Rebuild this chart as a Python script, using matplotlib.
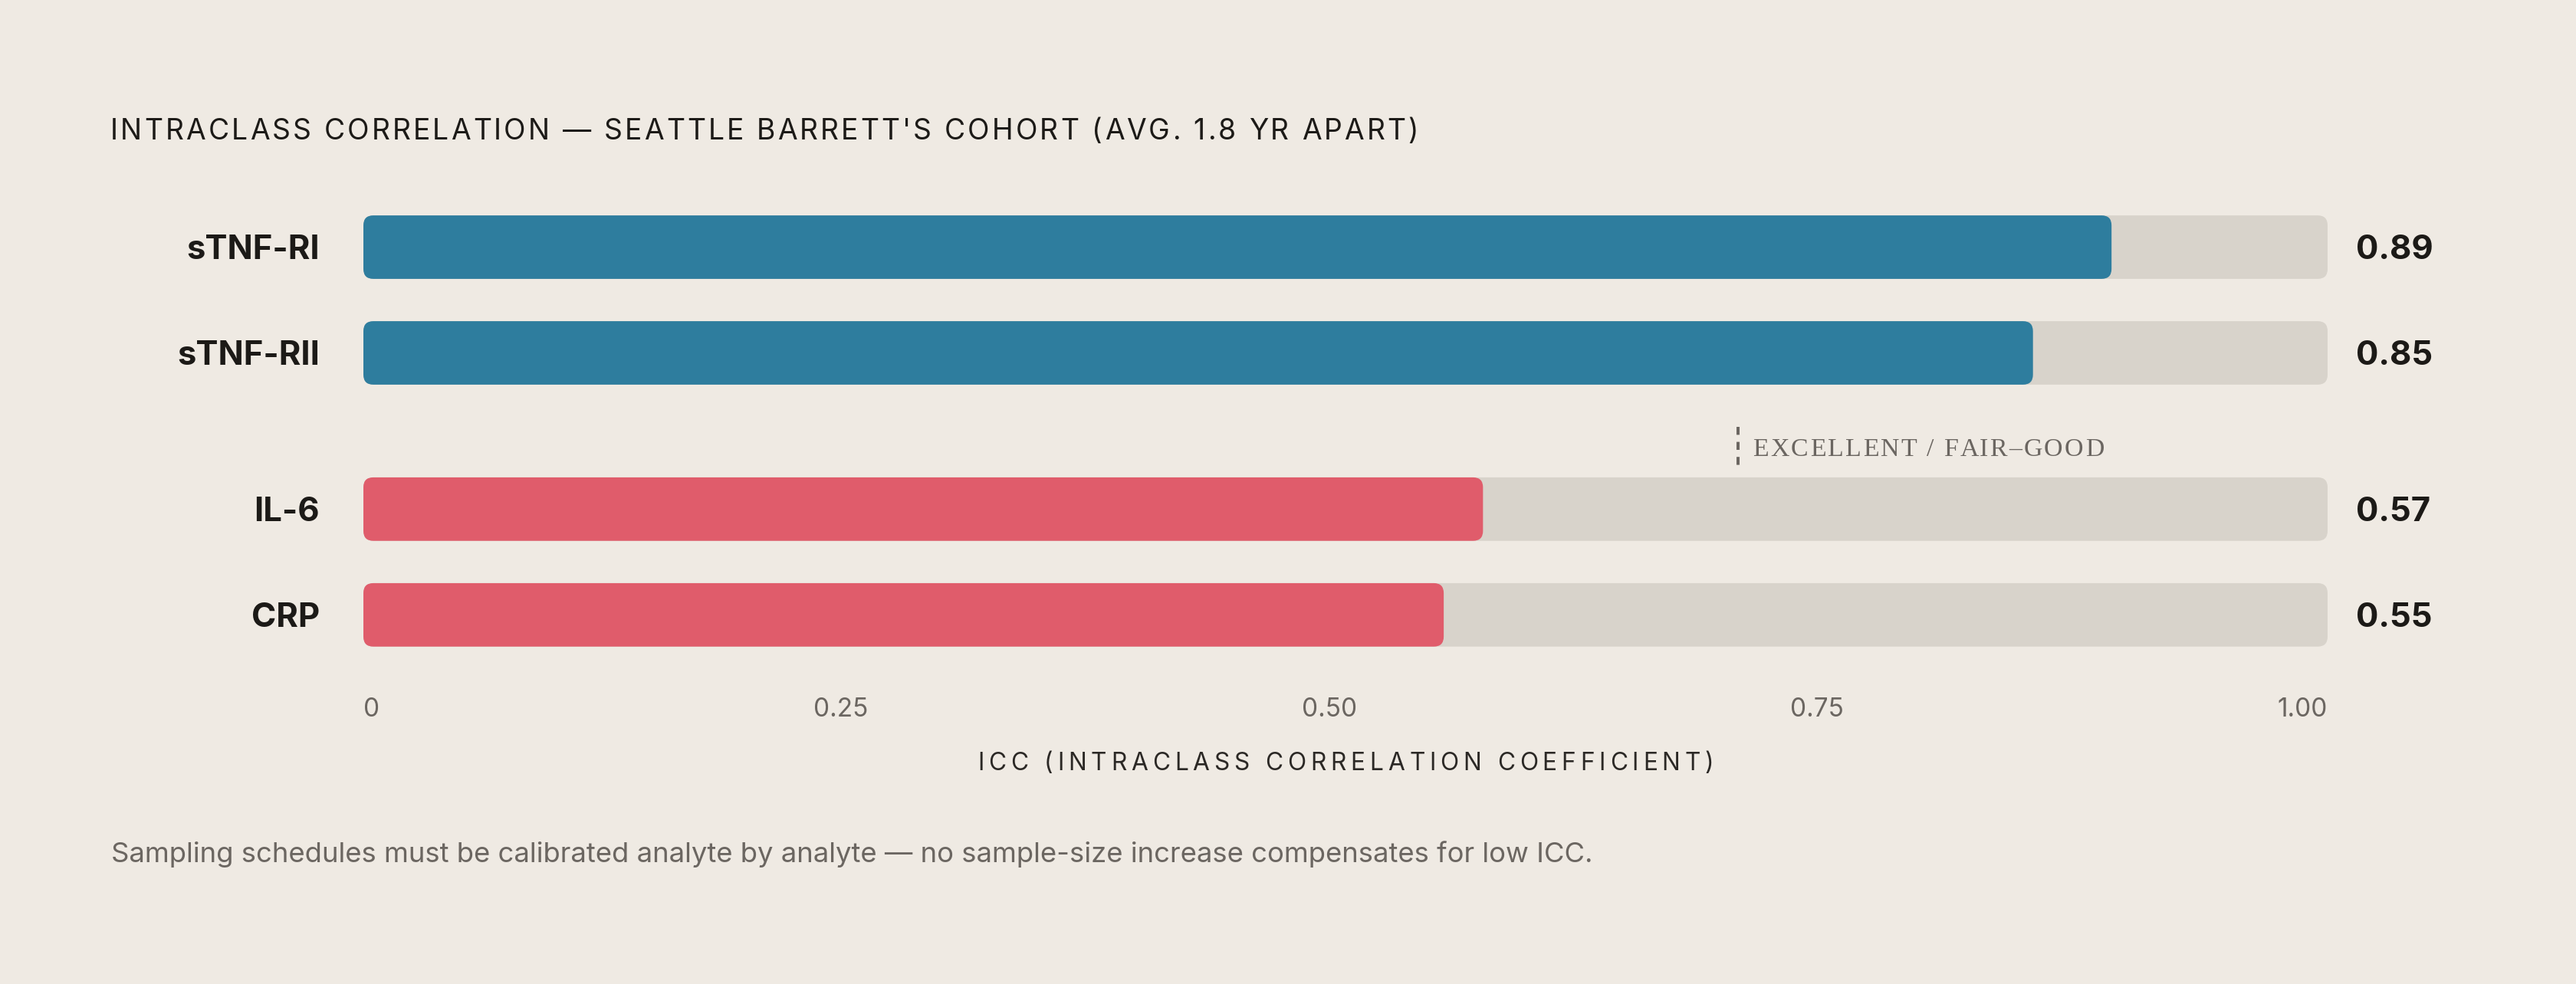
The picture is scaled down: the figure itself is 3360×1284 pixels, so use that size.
import matplotlib
matplotlib.use("Agg")
import matplotlib.pyplot as plt
from matplotlib.patches import FancyBboxPatch
import numpy as np

# ---------------- data ----------------
categories = ["sTNF-RI", "sTNF-RII", "IL-6", "CRP"]
icc_values = [0.89, 0.85, 0.57, 0.55]
groups = [0, 0, 1, 1]            # 0 = excellent, 1 = fair-good
value_labels = ["0.89", "0.85", "0.57", "0.55"]
tick_values = [0, 0.25, 0.50, 0.75, 1.00]
tick_labels = ["0", "0.25", "0.50", "0.75", "1.00"]
threshold = 0.70
threshold_label = "EXCELLENT / FAIR\u2013GOOD"
title = "INTRACLASS CORRELATION \u2014 SEATTLE BARRETT'S COHORT (AVG. 1.8 YR APART)"
xlabel = "ICC (INTRACLASS CORRELATION COEFFICIENT)"
footnote = ("Sampling schedules must be calibrated analyte by analyte \u2014 "
            "no sample-size increase compensates for low ICC.")

# ---------------- style ----------------
BG = "#EFEAE3"
TRACK = "#D8D3CB"
GROUP_COLORS = ["#2E7D9E", "#E05C6B"]
DARK = "#1C1A17"
GRAY = "#6B6661"
SANS = ["Inter", "DejaVu Sans"]
SERIF = ["Liberation Serif", "DejaVu Serif"]

W, H, DPI = 3360, 1284, 200
PT = DPI / 72.0   # pixels per point

fig = plt.figure(figsize=(W / DPI, H / DPI), dpi=DPI, facecolor=BG)
renderer = fig.canvas.get_renderer()


def fx(px):
    return px / W


def fy(py):
    return 1 - py / H


def tw(s, **kw):
    t = fig.text(0, 0, s, **kw)
    w = t.get_window_extent(renderer).width
    t.remove()
    return w


def spaced_text(x_px, y_px, s, target_w, ha="left", **kw):
    n = len(s)
    wx = tw("x", **kw)
    prefix = [tw(s[:i] + "x", **kw) - wx for i in range(n)]
    natural = tw(s, **kw)
    spacing = (target_w - natural) / (n - 1)
    total = natural + spacing * (n - 1)
    x0 = x_px if ha == "left" else x_px - total / 2
    for i, ch in enumerate(s):
        if ch == " ":
            continue
        fig.text(fx(x0 + prefix[i] + i * spacing), fy(y_px), ch,
                 ha="left", va="baseline", **kw)


# ---------------- axes (track area) ----------------
TRACK_L, TRACK_R = 474, 3036
ROW0_PX, ROW_PX = 322.5, 138.0
AX_TOP, AX_BOT = 250, 870
GROUP_GAP = 0.477
BAR_H = 0.60
RADIUS_PX = 13

ax = fig.add_axes([fx(TRACK_L), fy(AX_BOT), (TRACK_R - TRACK_L) / W, (AX_BOT - AX_TOP) / H])
ax.set_facecolor("none")
ax.set_xlim(0, 1)
ax.set_ylim((AX_BOT - ROW0_PX) / ROW_PX, (AX_TOP - ROW0_PX) / ROW_PX)
ax.axis("off")

ypos = np.arange(len(categories)) + np.array(groups) * GROUP_GAP

px_per_x = (TRACK_R - TRACK_L) / 1.0
px_per_y = ROW_PX
aspect = px_per_x / px_per_y
r_x = RADIUS_PX / px_per_x


def rounded_barh(y, widths, color):
    bars = ax.barh(y, widths, height=BAR_H, color=color, left=0)
    for rect in bars:
        x0, y0 = rect.get_x(), rect.get_y()
        w, h = rect.get_width(), rect.get_height()
        rect.set_visible(False)
        ax.add_patch(FancyBboxPatch((x0, y0), w, h,
                                    boxstyle=f"round,pad=0,rounding_size={r_x}",
                                    mutation_aspect=aspect,
                                    fc=rect.get_facecolor(), ec="none"))


rounded_barh(ypos, [1.0] * len(categories), TRACK)
rounded_barh(ypos, icc_values, [GROUP_COLORS[g] for g in groups])

# category and value labels
LABEL_FS = 15.7
cap_pt = 0.727 * LABEL_FS
for y, cat, val in zip(ypos, categories, value_labels):
    ax.annotate(cat, xy=(0, y), xycoords="data",
                xytext=(-(TRACK_L - 417) / PT, -cap_pt / 2), textcoords="offset points",
                ha="right", va="baseline", fontsize=LABEL_FS, fontweight="bold",
                color=DARK, family=SANS)
    ax.annotate(val, xy=(1, y), xycoords="data",
                xytext=((3073 - TRACK_R) / PT, -cap_pt / 2), textcoords="offset points",
                ha="left", va="baseline", fontsize=LABEL_FS, fontweight="bold",
                color=DARK, family=SANS)

# threshold marker
y_line0 = (557 - ROW0_PX) / ROW_PX
y_line1 = (610 - ROW0_PX) / ROW_PX
ax.vlines(threshold, y_line0, y_line1, colors=GRAY, linewidth=4 / PT,
          linestyles=(0, (2.6, 2.3)))
spaced_text(2286, 595, threshold_label, 458, fontsize=12.2, color=GRAY, family=SERIF)

# tick labels (justified between the track edges)
TICK_FS = 12.0
widths = [tw(t, fontsize=TICK_FS, family=SANS) for t in tick_labels]
gap = ((TRACK_R - TRACK_L) - sum(widths)) / (len(tick_labels) - 1)
x = TRACK_L
for lab, w in zip(tick_labels, widths):
    fig.text(fx(x), fy(935), lab, ha="left", va="baseline", fontsize=TICK_FS,
             color=GRAY, family=SANS)
    x += w + gap

# axis label
spaced_text((TRACK_L + TRACK_R) / 2, 1005, xlabel, 960, ha="center",
            fontsize=11.4, color="#2B2825", family=SANS)

# title
spaced_text(144, 182, title, 1706, fontsize=13.4, color=DARK, family=SANS)

# footnote
FOOT_FS = 12.7
fw = tw(footnote, fontsize=FOOT_FS, family=SANS)
FOOT_FS = FOOT_FS * 1933 / fw
fig.text(fx(145), fy(1125), footnote, ha="left", va="baseline", fontsize=FOOT_FS,
         color=GRAY, family=SANS)

fig.savefig("out.png", dpi=DPI, facecolor=BG)
